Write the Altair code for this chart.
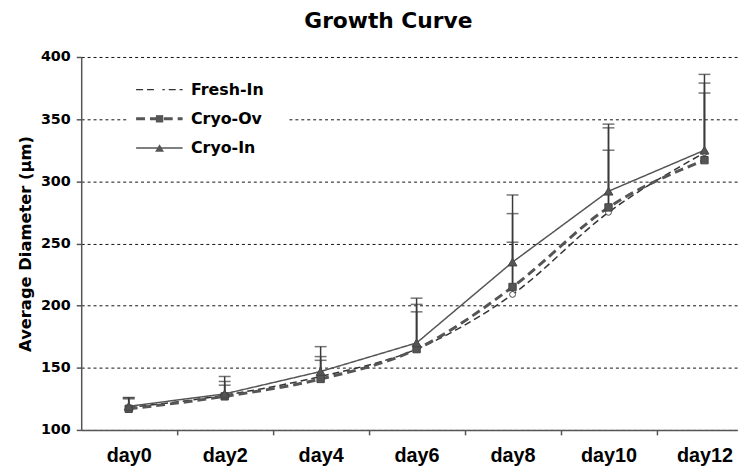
import altair as alt
import pandas as pd

days = ["day0", "day2", "day4", "day6", "day8", "day10", "day12"]
day_index = [0, 1, 2, 3, 4, 5, 6]
series_names = ["Fresh-In", "Cryo-Ov", "Cryo-In"]
marker_names = [s + " " for s in series_names]

fresh_in = [118, 128, 143, 165, 209, 275, 323]
cryo_ov = [117, 127, 141, 165, 215, 279, 317]
cryo_in = [119, 129, 147, 170, 235, 292, 325]

fresh_in_upper = [126, 139, 159, 201, 274, 325, 386]
cryo_ov_upper = [125, 136, 156, 195, 251, 343, 371]
cryo_in_upper = [126, 143, 167, 206, 289, 346, 379]

y_ticks = [100, 150, 200, 250, 300, 350, 400]
x_tick_marks = [-0.5, 0.5, 1.5, 2.5, 3.5, 4.5, 5.5]

rows = []
for name, means, uppers in [("Fresh-In", fresh_in, fresh_in_upper),
                            ("Cryo-Ov", cryo_ov, cryo_ov_upper),
                            ("Cryo-In", cryo_in, cryo_in_upper)]:
    for i, d, m, u in zip(day_index, days, means, uppers):
        rows.append({"idx": i, "day": d, "series": name, "marker": name + " ",
                     "mean": m, "upper": u})
df = pd.DataFrame(rows)

xscale = alt.Scale(domain=[-0.495, 6.34], nice=False, zero=False)
yscale = alt.Scale(domain=[100, 400], nice=False, zero=False)

label_axis = alt.Axis(values=day_index, labelExpr="'day' + (datum.value * 2)",
                      ticks=False, tickSize=0, grid=False, orient="bottom",
                      labelFont="Liberation Sans", labelFontWeight="bold",
                      labelFontSize=20, labelColor="black", labelPadding=16,
                      domainColor="#555", domainWidth=1.5, title=None)
tick_axis = alt.Axis(values=x_tick_marks, labels=False, ticks=True, tickSize=5,
                     tickColor="#555", tickWidth=1.5, domain=False, grid=False,
                     orient="bottom", title=None)
y_axis = alt.Axis(values=y_ticks, title="Average Diameter (µm)",
                  titleFont="DejaVu Sans", titleFontWeight="bold", titleFontSize=16.5,
                  titleColor="black", titlePadding=7,
                  labelFont="DejaVu Sans", labelFontWeight="bold", labelFontSize=14.5,
                  labelColor="black", labelPadding=6,
                  tickSize=5, tickColor="#555", tickWidth=1.5,
                  domainColor="#555", domainWidth=1.5,
                  grid=True, gridColor="#111", gridDash=[3, 3], gridWidth=1)

line_legend = alt.Legend(title=None, orient="none", legendX=47, legendY=1,
                         symbolType="M-4.7,0H4.7", symbolSize=100,
                         labelFont="DejaVu Sans", labelFontWeight="bold",
                         labelFontSize=16, labelColor="black", labelOffset=24,
                         rowPadding=13.5, padding=24, fillColor="white", zindex=1,
                         symbolStrokeWidth={"expr": "datum.value === 'Cryo-Ov' ? 3 : 1.5"})
marker_legend = alt.Legend(title=None, orient="none", legendX=47.2, legendY=1,
                           labelFontSize=16, labelExpr="''", labelOffset=24,
                           rowPadding=13.5, padding=24, symbolStrokeColor="#444",
                           symbolStrokeWidth=1, zindex=2,
                           symbolSize={"expr": "datum.value === 'Fresh-In ' ? 35 : "
                                               "(datum.value === 'Cryo-Ov ' ? 55 : 80)"})

color_enc = alt.Color("series:N", scale=alt.Scale(domain=series_names,
                      range=["#333333", "#555555", "#555555"]), legend=line_legend)
dash_enc = alt.StrokeDash("series:N", scale=alt.Scale(domain=series_names,
                          range=[[7, 4], [9, 5], [1, 0]]), legend=line_legend)
shape_enc = alt.Shape("marker:N", scale=alt.Scale(domain=marker_names,
                      range=["circle", "square", "triangle-up"]), legend=marker_legend)
fill_enc = alt.Fill("marker:N", scale=alt.Scale(domain=marker_names,
                    range=["white", "#555555", "#555555"]), legend=marker_legend)

base = alt.Chart(df)


def line_layer(name, width, interp, axis):
    return base.transform_filter(alt.datum.series == name).mark_line(
        interpolate=interp, strokeWidth=width).encode(
        x=alt.X("idx:Q", scale=xscale, axis=axis),
        y=alt.Y("mean:Q", scale=yscale, axis=y_axis),
        color=color_enc, strokeDash=dash_enc)


def point_layer(name, size):
    return base.transform_filter(alt.datum.series == name).mark_point(
        filled=True, stroke="#444", strokeWidth=1, opacity=1, size=size).encode(
        x=alt.X("idx:Q", scale=xscale, axis=None),
        y=alt.Y("mean:Q", scale=yscale, axis=y_axis),
        shape=shape_enc, fill=fill_enc)


line_fresh = line_layer("Fresh-In", 1.5, "monotone", label_axis)
line_ov = line_layer("Cryo-Ov", 3, "monotone", None)
line_in = line_layer("Cryo-In", 1.5, "linear", None)

err_rules = base.mark_rule(color="#3a3a3a", strokeWidth=1.5).encode(
    x=alt.X("idx:Q", scale=xscale, axis=tick_axis),
    y=alt.Y("mean:Q", scale=yscale, axis=y_axis),
    y2="upper:Q")

err_caps = base.mark_tick(color="#3a3a3a", thickness=1.5, size=12,
                          orient="horizontal").encode(
    x=alt.X("idx:Q", scale=xscale, axis=None),
    y=alt.Y("upper:Q", scale=yscale, axis=y_axis))

pts_fresh = point_layer("Fresh-In", 35)
pts_ov = point_layer("Cryo-Ov", 55)
pts_in = point_layer("Cryo-In", 80)

chart = alt.layer(line_fresh, line_ov, line_in, err_rules, err_caps,
                  pts_fresh, pts_ov, pts_in).resolve_axis(
    x="independent").properties(
    width=663, height=377,
    autosize=alt.AutoSizeParams(type="none"),
    padding={"left": 74, "top": 47, "right": 8, "bottom": 40},
    title=alt.Title("Growth Curve", font="DejaVu Sans", fontWeight="bold",
                    fontSize=22, color="black", anchor="middle", dx=-21,
                    offset=16),
).configure(background="white", view=alt.ViewConfig(stroke="transparent"))

chart.save("out.html", embed_options={"renderer": "svg", "actions": False})
